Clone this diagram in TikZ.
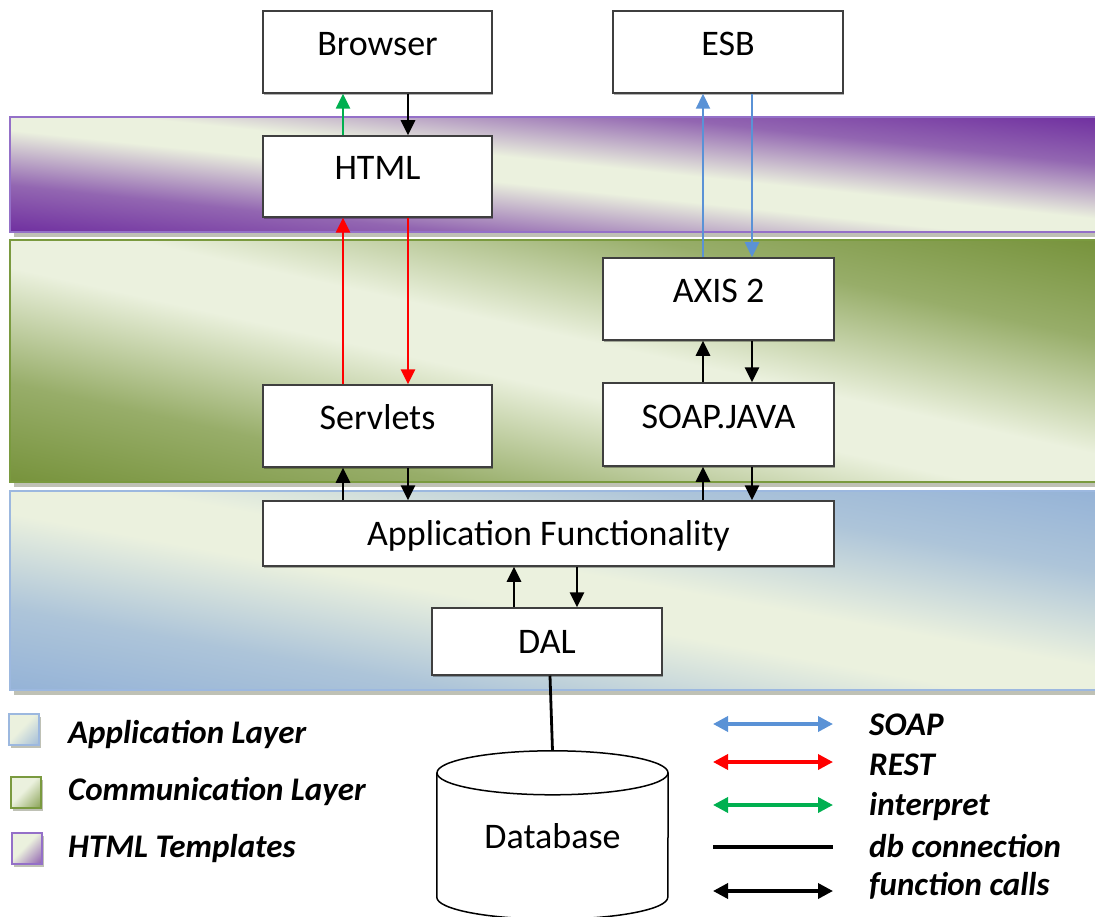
\documentclass[tikz,border=0pt]{standalone}
\usepackage{fontspec}
\setmainfont{Carlito}
\usetikzlibrary{arrows.meta,shadows,calc}

% palette
\definecolor{lightband}{HTML}{EBF1DE}
\definecolor{purpleband}{HTML}{7030A0}
\definecolor{greenband}{HTML}{77933C}
\definecolor{blueband}{HTML}{95B3D7}
\definecolor{purpleedge}{HTML}{9470C8}
\definecolor{greenedge}{HTML}{7A9A3F}
\definecolor{blueedge}{HTML}{9CB8DF}
\definecolor{bandshadow}{HTML}{7F846C}
\definecolor{boxedge}{HTML}{3F3F3F}
\definecolor{soapblue}{HTML}{5A92D6}
\definecolor{restred}{HTML}{FF0000}
\definecolor{interpgreen}{HTML}{00B050}

% diagonal layer gradients: colour in two opposite corners, light across the middle
% (the corners of a square shaded at 45 degrees sit at 14.6bp and 85.4bp)
\pgfdeclarehorizontalshading{htmlshade}{100bp}{color(0bp)=(purpleband); color(14.6bp)=(purpleband); color(29bp)=(purpleband!72!lightband); color(46bp)=(lightband); color(54bp)=(lightband); color(71bp)=(purpleband!72!lightband); color(85.4bp)=(purpleband); color(100bp)=(purpleband)}
\pgfdeclarehorizontalshading{commshade}{100bp}{color(0bp)=(greenband); color(14.6bp)=(greenband); color(29bp)=(greenband!72!lightband); color(46bp)=(lightband); color(54bp)=(lightband); color(71bp)=(greenband!72!lightband); color(85.4bp)=(greenband); color(100bp)=(greenband)}
\pgfdeclarehorizontalshading{appshade}{100bp}{color(0bp)=(blueband); color(14.6bp)=(blueband); color(29bp)=(blueband!72!lightband); color(46bp)=(lightband); color(54bp)=(lightband); color(71bp)=(blueband!72!lightband); color(85.4bp)=(blueband); color(100bp)=(blueband)}
% key swatches: light top-left, tinted bottom-right
\pgfdeclarehorizontalshading{htmlkey}{100bp}{color(0bp)=(lightband); color(45bp)=(lightband); color(85bp)=(purpleband!75!lightband); color(100bp)=(purpleband!75!lightband)}
\pgfdeclarehorizontalshading{commkey}{100bp}{color(0bp)=(lightband); color(45bp)=(lightband); color(85bp)=(greenband!85!lightband); color(100bp)=(greenband!85!lightband)}
\pgfdeclarehorizontalshading{appkey}{100bp}{color(0bp)=(lightband); color(45bp)=(lightband); color(85bp)=(blueband!85!lightband); color(100bp)=(blueband!85!lightband)}

% fill a rectangle with a shading that is laid out on a square and stretched to the rectangle
\newcommand\layerfill[6]{%
  \pgfmathsetmacro\lfw{(#4-#2)/100}%
  \pgfmathsetmacro\lfh{(#5-#3)/100}%
  \begin{scope}[transform canvas={shift={({(#2+#4)/2},{(#3+#5)/2})}, xscale=\lfw, yscale=\lfh}]
    \shade[shading=#1, shading angle=#6] (-50pt,-50pt) rectangle (50pt,50pt);
  \end{scope}}

\tikzset{
  box/.style={draw=boxedge, line width=1.5pt, fill=white, inner sep=0pt,
    font=\fontsize{36}{40}\selectfont,
    drop shadow={shadow xshift=1pt, shadow yshift=-2pt, opacity=.3, fill=black}},
  tallbox/.style={box, text height=26pt, text depth=19pt},
  flatbox/.style={box, text height=26pt, text depth=3pt},
  legendtext/.style={anchor=west, inner sep=0pt, text height=22pt, text depth=7pt,
    font=\fontsize{33}{36}\selectfont\bfseries\itshape},
  fcall/.style={line width=2.8pt, draw=black, -{Triangle[length=15pt,width=14pt]}},
  soapcall/.style={fcall, line width=2.3pt, draw=soapblue, -{Triangle[length=15pt,width=14pt,fill=soapblue]}},
  restcall/.style={fcall, draw=restred, -{Triangle[length=15pt,width=14pt,fill=restred]}},
  interpcall/.style={fcall, line width=2.6pt, draw=interpgreen, -{Triangle[length=15pt,width=14pt,fill=interpgreen]}},
  dbconn/.style={line width=2.8pt, draw=black},
  keyarrow/.style={line width=3.5pt, {Triangle[length=15pt,width=15pt]}-{Triangle[length=15pt,width=15pt]}},
  bandedge/.style={line width=2pt},
  shadowfill/.style={fill=bandshadow, opacity=.5},
}

\begin{document}
\begin{tikzpicture}[x=1pt, y=-1pt]
\useasboundingbox (0,0) rectangle (1095,917);
\clip (0,0) rectangle (1095,917);

% layer bands: shadow, gradient, outline
\fill[shadowfill] (14,122) rectangle (1104,237);
\layerfill{htmlshade}{10}{117}{1100}{232}{45}
\draw[bandedge, purpleedge] (10,117) rectangle (1100,232);

\fill[shadowfill] (14,245) rectangle (1104,487);
\layerfill{commshade}{10}{240}{1100}{482}{45}
\draw[bandedge, greenedge] (10,240) rectangle (1100,482);

\fill[shadowfill] (14,496) rectangle (1104,695);
\layerfill{appshade}{10}{491}{1100}{690}{45}
\draw[bandedge, blueedge] (10,491) rectangle (1100,690);

% components
\node[tallbox, minimum width=229pt, minimum height=82pt] (browser) at (377.5,52) {Browser};
\node[tallbox, minimum width=230pt, minimum height=82pt] (esb) at (728,52) {ESB};
\node[tallbox, minimum width=229pt, minimum height=81pt] (html) at (377.5,176.5) {HTML};
\node[tallbox, minimum width=231pt, minimum height=82pt] (axis) at (718.5,299) {AXIS 2};
\node[tallbox, minimum width=229pt, minimum height=82pt] (servlets) at (377.5,426) {Servlets};
\node[tallbox, minimum width=231pt, minimum height=83pt] (soap) at (718.5,424.5) {SOAP.JAVA};
\node[flatbox, minimum width=571pt, minimum height=65pt] (appf) at (548.5,533.5) {Application Functionality};
\node[flatbox, minimum width=230pt, minimum height=67pt] (dal) at (547,641.5) {DAL};

% database body (node spans the straight part of the cylinder)
\node[inner sep=0pt, minimum width=231pt, minimum height=124pt] (db) at (552.5,835) {};
\coordinate (dbtop) at ($(db.north)+(0,-22)$);

% connector columns
\coordinate (c1) at (343,0);
\coordinate (c2) at (408,0);
\coordinate (c3) at (703,0);
\coordinate (c4) at (752,0);
\coordinate (c5) at (514,0);
\coordinate (c6) at (577,0);
\coordinate (c7) at (550,0);

\draw[dbconn] (dal.south -| c7) -- (dbtop);

\fill[white] (db.north west) -- (db.south west)
  arc[start angle=180, end angle=0, x radius=115.5, y radius=22]
  -- (db.north east)
  arc[start angle=0, end angle=-180, x radius=115.5, y radius=22] -- cycle;
\draw[line width=1.5pt] (db.north west) -- (db.south west)
  arc[start angle=180, end angle=0, x radius=115.5, y radius=22]
  -- (db.north east);
\draw[line width=1.5pt] (db.north) ellipse[x radius=115.5, y radius=22];
\node[inner sep=0pt, text height=26pt, text depth=3pt, font=\fontsize{36}{40}\selectfont] (dblabel) at ([yshift=-2pt]db.center) {Database};

% interactions
\draw[interpcall] (html.north -| c1) -- (browser.south -| c1);
\draw[fcall] (browser.south -| c2) -- (html.north -| c2);
\draw[restcall] (servlets.north -| c1) -- (html.south -| c1);
\draw[restcall] (html.south -| c2) -- (servlets.north -| c2);
\draw[soapcall] (axis.north -| c3) -- (esb.south -| c3);
\draw[soapcall] (esb.south -| c4) -- (axis.north -| c4);
\draw[fcall] (soap.north -| c3) -- (axis.south -| c3);
\draw[fcall] (axis.south -| c4) -- (soap.north -| c4);
\draw[fcall] (appf.north -| c1) -- (servlets.south -| c1);
\draw[fcall] (servlets.south -| c2) -- (appf.north -| c2);
\draw[fcall] (appf.north -| c3) -- (soap.south -| c3);
\draw[fcall] (soap.south -| c4) -- (appf.north -| c4);
\draw[fcall] (dal.north -| c5) -- (appf.south -| c5);
\draw[fcall] (appf.south -| c6) -- (dal.north -| c6);

% key: layers
\fill[shadowfill] (11,717) rectangle (41,748);
\layerfill{appkey}{9}{714}{39}{745}{-45}
\draw[bandedge, blueedge] (9,714) rectangle (39,745);
\fill[shadowfill] (13,780) rectangle (43,811);
\layerfill{commkey}{11}{777}{41}{808}{-45}
\draw[bandedge, greenedge] (11,777) rectangle (41,808);
\fill[shadowfill] (14,836) rectangle (44,867);
\layerfill{htmlkey}{12}{833}{42}{864}{-45}
\draw[bandedge, purpleedge] (12,833) rectangle (42,864);
\node[legendtext] (lgapp) at (68,735.5) {Application Layer};
\node[legendtext] (lgcomm) at (68,792.5) {Communication Layer};
\node[legendtext] (lghtml) at (68,849.5) {HTML Templates};

% key: connectors
\coordinate (ka1) at (713,724);  \coordinate (kb1) at (833,724);
\coordinate (ka2) at (713,762);  \coordinate (kb2) at (833,762);
\coordinate (ka3) at (713,805);  \coordinate (kb3) at (833,805);
\coordinate (ka4) at (713,847);  \coordinate (kb4) at (833,847);
\coordinate (ka5) at (713,891);  \coordinate (kb5) at (833,891);
\draw[keyarrow, draw=soapblue, fill=soapblue] (ka1) -- (kb1);
\draw[keyarrow, draw=restred, fill=restred] (ka2) -- (kb2);
\draw[keyarrow, draw=interpgreen, fill=interpgreen] (ka3) -- (kb3);
\draw[line width=3.5pt] (ka4) -- (kb4);
\draw[keyarrow] (ka5) -- (kb5);
\node[legendtext] (lgsoap) at (869,727.5) {SOAP};
\node[legendtext] (lgrest) at (869,767.5) {REST};
\node[legendtext] (lginterp) at (869,807.5) {interpret};
\node[legendtext] (lgdb) at (869,849.5) {db connection};
\node[legendtext] (lgfn) at (869,887.5) {function calls};
\end{tikzpicture}
\end{document}
